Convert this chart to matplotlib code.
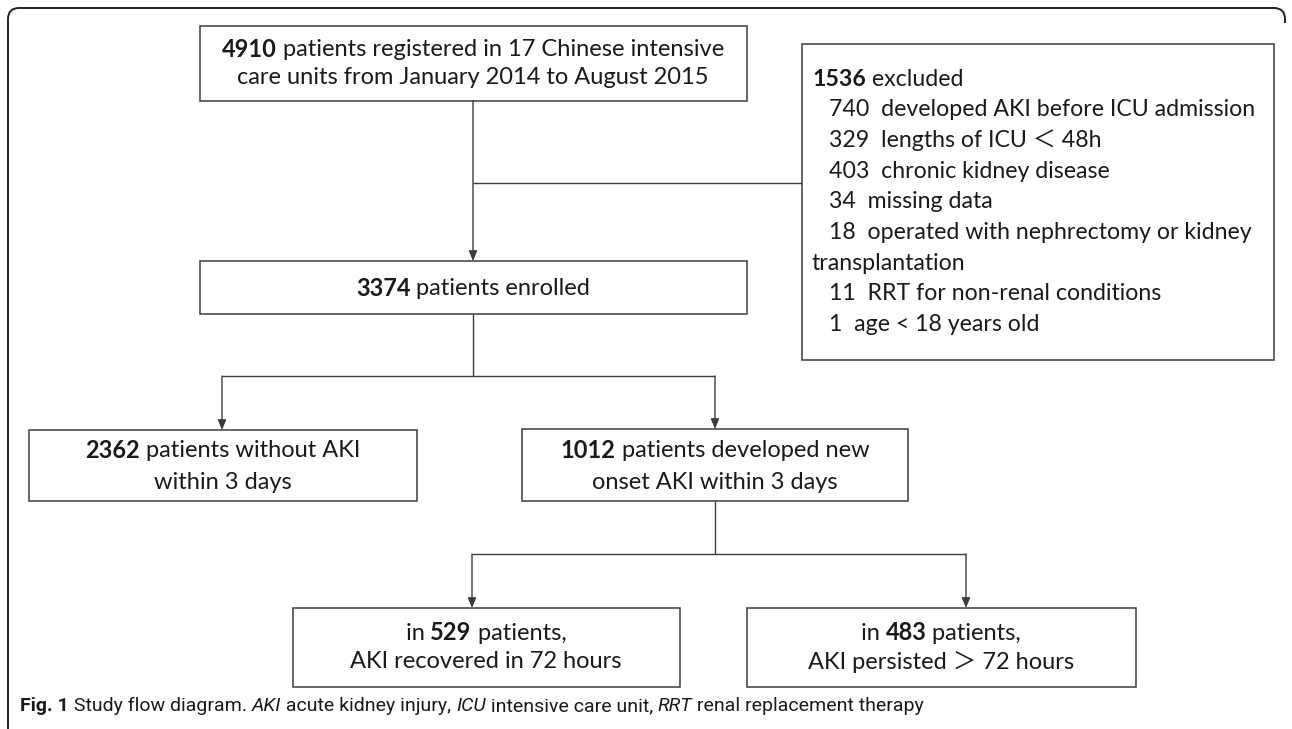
import matplotlib
matplotlib.use('Agg')
import matplotlib.pyplot as plt
from matplotlib.patches import Rectangle, PathPatch
from matplotlib.path import Path
from matplotlib import font_manager

# counts shown in the diagram
registered_n = '4910'
enrolled_n = '3374'
excluded_n = '1536'
no_aki_n = '2362'
aki_n = '1012'
recovered_n = '529'
persisted_n = '483'

exclusion_counts = ['740', '329', '403', '34', '18', '11', '1']
exclusion_reasons = ['developed AKI before ICU admission',
                     'lengths of ICU \uff1c 48h',
                     'chronic kidney disease',
                     'missing data',
                     'operated with nephrectomy or kidney\ntransplantation',
                     'RRT for non-renal conditions',
                     'age < 18 years old']

caption = [('Fig. 1', 'bold'), (' Study flow diagram. ', 'normal'),
           ('AKI', 'italic'), (' acute kidney injury, ', 'normal'),
           ('ICU', 'italic'), (' intensive care unit, ', 'normal'),
           ('RRT', 'italic'), (' renal replacement therapy', 'normal')]

W, H = 1292, 729
FS = 17
LINE = '#3c3c3c'
TXT = '#1a1a1a'

plt.rcParams['font.family'] = ['Lato', 'Noto Sans CJK SC', 'DejaVu Sans']

names = {f.name for f in font_manager.fontManager.ttflist}
if 'Liberation Sans Narrow' in names:
    cap_font = ['Liberation Sans Narrow']
else:
    cap_font = ['Roboto']

fig = plt.figure(figsize=(W / 100, H / 100), dpi=100)
ax = fig.add_axes([0, 0, 1, 1])
ax.set_xlim(0, W)
ax.set_ylim(H, 0)
ax.axis('off')
renderer = fig.canvas.get_renderer()


def draw_line(x, y, segs, ha='center', size=FS, family=None):
    texts, widths = [], []
    for s, kind in segs:
        kw = dict(fontsize=size, va='center', ha='left', color=TXT)
        if kind == 'bold':
            kw['fontweight'] = 'bold'
        if kind == 'italic':
            kw['fontstyle'] = 'italic'
        if family:
            kw['family'] = family
        t = ax.text(0, y, s, **kw)
        texts.append(t)
        widths.append(t.get_window_extent(renderer).width)
    x0 = x - sum(widths) / 2 if ha == 'center' else x
    for t, wd in zip(texts, widths):
        t.set_x(x0)
        x0 += wd


def box(b):
    x0, y0, x1, y1 = b
    ax.add_patch(Rectangle((x0, y0), x1 - x0, y1 - y0, fill=False,
                           edgecolor=LINE, lw=1.1))


def seg(p, q):
    ax.plot([p[0], q[0]], [p[1], q[1]], color=LINE, lw=1.0,
            solid_capstyle='butt')


def arrow(p, q):
    ax.annotate('', xy=q, xytext=p,
                arrowprops=dict(arrowstyle='-|>,head_length=0.6,head_width=0.25',
                                color=LINE, lw=1.0, shrinkA=0, shrinkB=0))


# outer frame (top + left, rounded corners)
r = 11
verts = [(8, H + 5), (8, 8 + r), (8, 8), (8 + r, 8), (1285 - r, 8),
         (1285, 8), (1285, 8 + r), (1285, 8 + r + 4)]
codes = [Path.MOVETO, Path.LINETO, Path.CURVE3, Path.CURVE3, Path.LINETO,
         Path.CURVE3, Path.CURVE3, Path.LINETO]
ax.add_patch(PathPatch(Path(verts, codes), fill=False, edgecolor='#222222', lw=1.4))

b_reg = (200, 26, 747, 101)
b_enr = (200, 261, 747, 314)
b_exc = (802, 44, 1274, 360)
b_no = (29, 430, 417, 501)
b_aki = (522, 429, 908, 501)
b_rec = (293, 608, 680, 687)
b_per = (747, 608, 1136, 687)
for b in [b_reg, b_enr, b_exc, b_no, b_aki, b_rec, b_per]:
    box(b)

# connectors
arrow((473, 101), (473, 261))
seg((473, 183), (802, 183))
seg((473, 314), (473, 376))
seg((222, 376), (715, 376))
arrow((222, 376), (222, 430))
arrow((715, 376), (715, 429))
seg((715, 501), (715, 554))
seg((472, 554), (966, 554))
arrow((472, 554), (472, 608))
arrow((966, 554), (966, 608))

# box texts
draw_line(473, 49, [(registered_n, 'bold'),
                    (' patients registered in 17 Chinese intensive', 'normal')])
draw_line(473, 77, [('care units from January 2014 to August 2015', 'normal')])
draw_line(473, 288, [(enrolled_n, 'bold'), (' patients enrolled', 'normal')])
draw_line(223, 450, [(no_aki_n, 'bold'), (' patients without AKI', 'normal')])
draw_line(223, 482, [('within 3 days', 'normal')])
draw_line(715, 450, [(aki_n, 'bold'), (' patients developed new', 'normal')])
draw_line(715, 482, [('onset AKI within 3 days', 'normal')])
draw_line(486, 633, [('in ', 'normal'), (recovered_n, 'bold'), (' patients,', 'normal')])
draw_line(486, 662, [('AKI recovered in 72 hours', 'normal')])
draw_line(941, 633, [('in ', 'normal'), (persisted_n, 'bold'), (' patients,', 'normal')])
draw_line(941, 662, [('AKI persisted \uff1e 72 hours', 'normal')])

# exclusion list
y = 79
step = 30.7
draw_line(812, y, [(excluded_n, 'bold'), (' excluded', 'normal')], ha='left', size=16.7)
for n, reason in zip(exclusion_counts, exclusion_reasons):
    parts = reason.split('\n')
    y += step
    draw_line(829, y, [(n + '  ' + parts[0], 'normal')], ha='left', size=16.7)
    for extra in parts[1:]:
        y += step
        draw_line(812, y, [(extra, 'normal')], ha='left', size=16.7)

draw_line(20, 706, caption, ha='left', size=14, family=cap_font)

fig.savefig('out.png', dpi=100)
